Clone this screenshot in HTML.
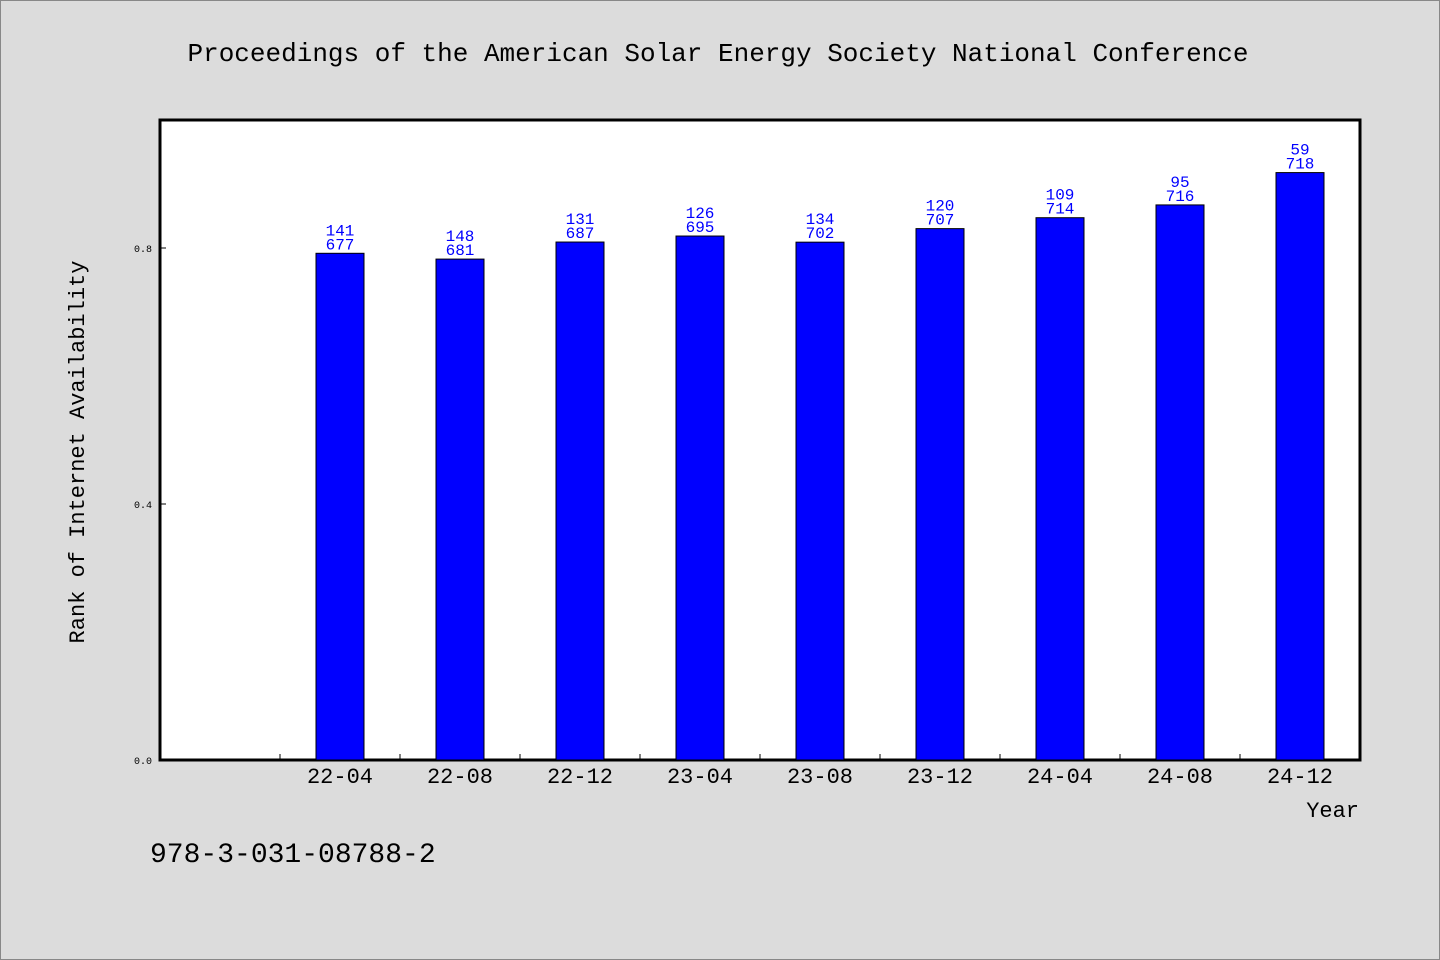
<!DOCTYPE html>
<html><head><meta charset="utf-8"><style>
body{margin:0;background:#dcdcdc;}
svg{display:block;font-family:"Liberation Mono","WenQuanYi Zen Hei",monospace;}
</style></head><body>
<svg id="chart" width="1440" height="960">
<rect x="0.5" y="0.5" width="1439" height="959" fill="#dcdcdc" stroke="#888"/>
<text x="718" y="61" text-anchor="middle" font-size="26">Proceedings of the American Solar Energy Society National Conference</text>
<rect x="160" y="120" width="1200" height="640" fill="#fff" stroke="#000" stroke-width="3"/>
<g id="marks"></g>
<text transform="translate(84,452) rotate(-90)" text-anchor="middle" font-size="22">Rank of Internet Availability</text>
<text x="1359" y="817" text-anchor="end" font-size="22">Year</text>
<text x="150" y="862" font-size="28">978-3-031-08788-2</text>
</svg>
<script>
const categories=["22-04","22-08","22-12","23-04","23-08","23-12","24-04","24-08","24-12"];
const ranks=[141,148,131,126,134,120,109,95,59];
const totals=[677,681,687,695,702,707,714,716,718];
const yTicks=[0,0.4,0.8];
const NS="http://www.w3.org/2000/svg";
const g=document.getElementById('marks');
const x0=160,slot=120,yBase=760,pxPer=640,barW=48;
function xc(i){return x0+slot*(i+1.5);}
function ys(v){return yBase-v*pxPer;}
function mk(tag,attrs,txt){const e=document.createElementNS(NS,tag);for(const k in attrs)e.setAttribute(k,attrs[k]);if(txt!==undefined)e.textContent=txt;g.appendChild(e);return e;}
yTicks.forEach(t=>{
  const l=mk('line',{x1:160,x2:166,y1:ys(t),y2:ys(t),stroke:'#000'});
  
  
  const tx=mk('text',{x:152,y:ys(t)+4,'text-anchor':'end','font-size':10},t.toFixed(1));
  
  
});
categories.forEach((c,i)=>{
  const v=1-ranks[i]/totals[i];
  const cx=xc(i);
  const tk=mk('line',{x1:cx-60,x2:cx-60,y1:760,y2:754,stroke:'#000'});
  
  
  const b=mk('rect',{x:cx-barW/2,y:ys(v),width:barW,height:yBase-ys(v),fill:'#0000ff',stroke:'#000','stroke-width':1});
  
  
  const t1=mk('text',{x:cx,y:ys(v)-18,'text-anchor':'middle','font-size':16,fill:'#0000ff'},ranks[i]);
  
  
  const t2=mk('text',{x:cx,y:ys(v)-4,'text-anchor':'middle','font-size':16,fill:'#0000ff'},totals[i]);
  
  
  const xl=mk('text',{x:cx,y:783,'text-anchor':'middle','font-size':22},c);
  
  
});
const lt=mk('line',{x1:1360,x2:1360,y1:760,y2:754,stroke:'#000'});


</script>
</body></html>
